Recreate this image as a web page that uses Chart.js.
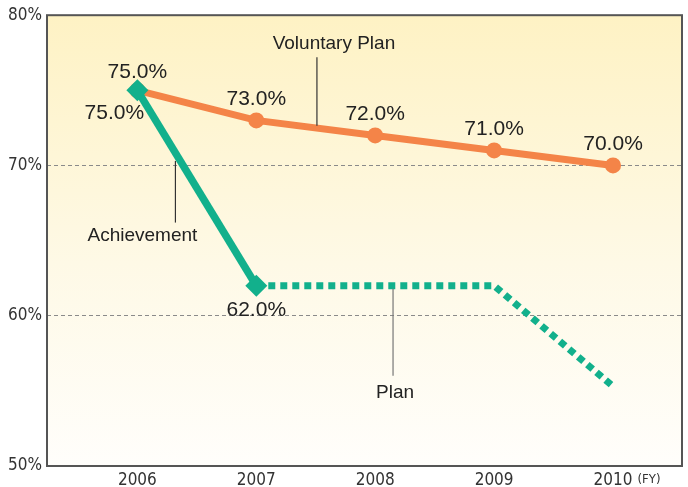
<!DOCTYPE html>
<html>
<head>
<meta charset="utf-8">
<script src="https://cdn.jsdelivr.net/npm/chart.js@4"></script>
<style>
  html, body { margin: 0; padding: 0; background: #fff; }
  #wrap { width: 688px; height: 487px; }
</style>
</head>
<body>
<div id="wrap"><canvas id="rateChart" width="688" height="487"></canvas></div>
<script>
const years = [2006, 2007, 2008, 2009, 2010];
const voluntaryPlan = [75, 73, 72, 71, 70];
const achievement = [75, 62, null, null, null];
const plan = [null, 62, 62, 62, 55.3];
const yTicks = [50, 60, 70, 80];

const ORANGE = "#f48448";
const GREEN = "#12b08c";
const TEXT = "#222";
const NARROW = "'Liberation Sans Narrow', 'DejaVu Sans Condensed', sans-serif";
const SANS = "'Liberation Sans', Arial, sans-serif";

const toPoints = (arr) => arr.map((v, i) => ({ x: years[i], y: v }));

// background gradient + frame
const framePlugin = {
  id: "frame",
  beforeDraw(chart) {
    const { ctx, chartArea: a } = chart;
    const g = ctx.createLinearGradient(0, a.top, 0, a.bottom);
    g.addColorStop(0, "#fef2c4");
    g.addColorStop(0.55, "#fef9e6");
    g.addColorStop(1, "#fffefb");
    ctx.save();
    ctx.fillStyle = g;
    ctx.fillRect(a.left, a.top, a.right - a.left, a.bottom - a.top);
    ctx.restore();
  },
  afterDatasetsDraw(chart) {
    const { ctx, chartArea: a } = chart;
    ctx.save();
    ctx.strokeStyle = "#555";
    ctx.lineWidth = 2;
    ctx.strokeRect(a.left, a.top, a.right - a.left, a.bottom - a.top);
    ctx.restore();
  }
};

// value labels and callouts
const labelPlugin = {
  id: "labels",
  afterDatasetsDraw(chart) {
    const { ctx } = chart;
    const xs = chart.scales.x, ys = chart.scales.y;
    const px = (x) => xs.getPixelForValue(x);
    const py = (y) => ys.getPixelForValue(y);
    const pct = (v) => v.toFixed(1) + "%";

    ctx.save();
    ctx.fillStyle = TEXT;
    ctx.textAlign = "center";
    ctx.textBaseline = "middle";
    ctx.font = "21px " + SANS;

    voluntaryPlan.forEach((v, i) => {
      ctx.fillText(pct(v), px(years[i]), py(v) - (i === 0 ? 18 : 21));
    });
    ctx.fillText(pct(achievement[0]), px(years[0]) - 23, py(achievement[0]) + 23);
    ctx.fillText(pct(achievement[1]), px(years[1]), py(achievement[1]) + 25);

    // callout leaders
    ctx.strokeStyle = "#333";
    ctx.lineWidth = 1.2;
    const leader = (x, y1, y2) => {
      ctx.beginPath();
      ctx.moveTo(x, y1);
      ctx.lineTo(x, y2);
      ctx.stroke();
    };
    ctx.font = "19px " + SANS;

    const vx = px(2007.51);
    leader(vx, py(72.65), py(77.2));
    ctx.fillText("Voluntary Plan", vx + 17, py(78.1));

    const ax = px(2006.32);
    leader(ax, py(70.3), py(66.2));
    ctx.fillText("Achievement", ax - 33, py(65.3));

    ctx.strokeStyle = "#777";
    const plx = px(2008.15);
    leader(plx, py(61.8), py(56.0));
    ctx.fillText("Plan", plx + 2, py(54.9));

    ctx.fillStyle = "#333";
    ctx.font = "13px " + NARROW;
    ctx.fillText("(FY)", px(2010) + 36, chart.chartArea.bottom + 14);
    ctx.restore();
  }
};

new Chart(document.getElementById("rateChart"), {
  type: "line",
  data: {
    datasets: [
      {
        label: "Achievement",
        data: toPoints(achievement),
        borderColor: GREEN,
        backgroundColor: GREEN,
        borderWidth: 7.5,
        pointStyle: "rectRot",
        pointRadius: 11,
        pointBorderWidth: 0,
        spanGaps: false
      },
      {
        label: "Plan",
        data: toPoints(plan),
        borderColor: GREEN,
        borderWidth: 7,
        borderDash: [7, 5],
        borderCapStyle: "butt",
        pointRadius: 0,
        spanGaps: false
      },
      {
        label: "Voluntary Plan",
        data: toPoints(voluntaryPlan),
        borderColor: ORANGE,
        backgroundColor: ORANGE,
        borderWidth: 7,
        pointStyle: "circle",
        pointRadius: 8,
        pointBorderWidth: 0
      }
    ]
  },
  options: {
    responsive: false,
    animation: false,
    layout: { autoPadding: false, padding: { top: 14, right: 6, left: 0, bottom: 0 } },
    plugins: {
      legend: { display: false },
      tooltip: { enabled: false }
    },
    scales: {
      x: {
        type: "linear",
        min: 2005.24,
        max: 2010.58,
        afterBuildTicks: (s) => { s.ticks = years.map((v) => ({ value: v })); },
        afterFit: (s) => { s.height = 21; s.paddingRight = 0; s.paddingLeft = 0; },
        grid: { display: false, drawTicks: false },
        border: { display: false },
        ticks: {
          padding: 4,
          color: "#333",
          font: { family: NARROW, size: 17 },
          callback: (v) => String(v)
        }
      },
      y: {
        min: 50,
        max: 80,
        afterBuildTicks: (s) => { s.ticks = yTicks.map((v) => ({ value: v })); },
        afterFit: (s) => { s.width = 47; },
        grid: {
          drawTicks: false,
          color: (c) => (c.tick && (c.tick.value === 60 || c.tick.value === 70)) ? "#8a8a8a" : "rgba(0,0,0,0)",
          lineWidth: 1
        },
        border: { display: false, dash: [4, 3] },
        ticks: {
          padding: 5,
          color: "#333",
          font: { family: NARROW, size: 17 },
          callback: (v) => v + "%"
        }
      }
    }
  },
  plugins: [framePlugin, labelPlugin]
});
</script>
</body>
</html>
